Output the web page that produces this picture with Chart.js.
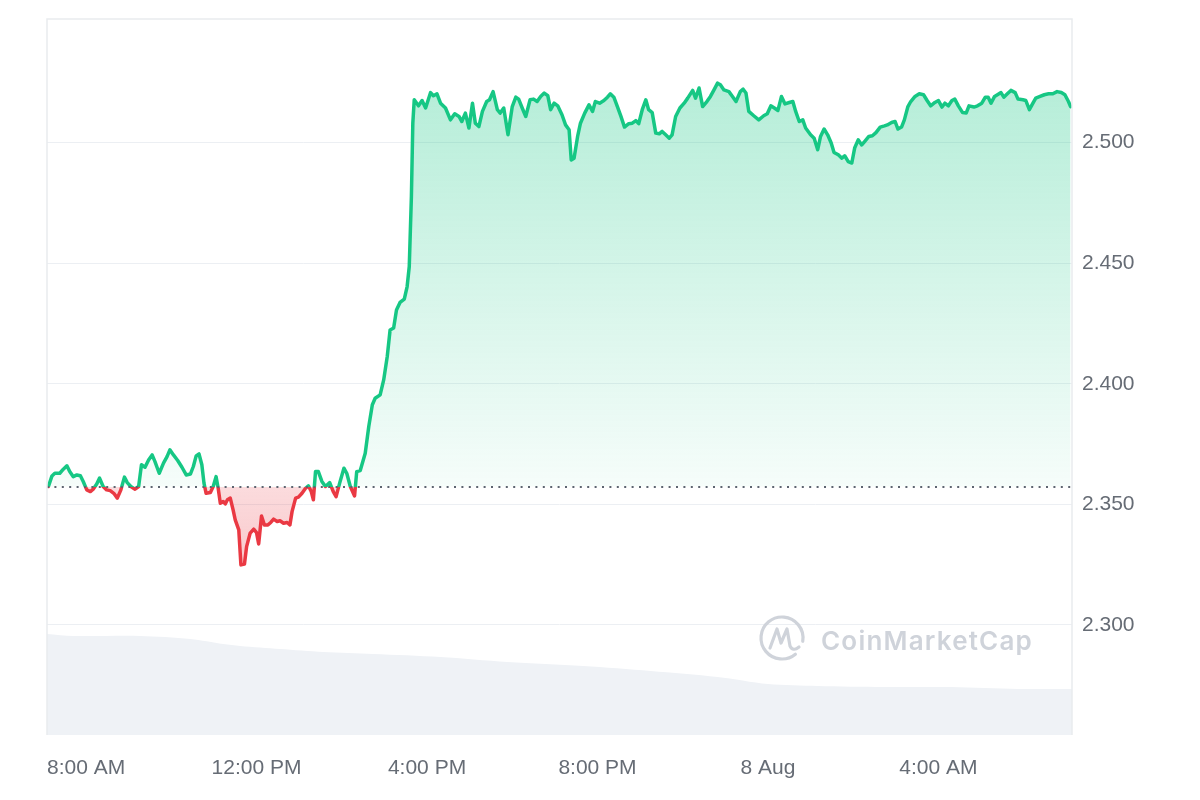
<!DOCTYPE html>
<html>
<head>
    <meta charset="utf-8">
    <title>Price chart 24h</title>
    <style>
        html, body {
            margin: 0;
            padding: 0;
            background: #fff;
        }
        #wrap {
            width: 1200px;
            height: 800px;
        }
    </style>
    <script src="https://cdn.jsdelivr.net/npm/chart.js"></script>
</head>
<body>
    <div id="wrap"><canvas id="priceChart" width="1200" height="800"></canvas></div>
    <script>
        // minutes after 8:00 AM (7 Aug)
        var times = [-53, -48, -44, -37, -32, -27, -23, -18, -13, -8, -4, 1, 6, 10, 15, 19, 24, 29, 34, 39,
            44, 49, 54, 58, 63, 69, 74, 78, 83, 88, 93, 97, 103, 109, 114, 118, 123, 129, 135, 141,
            147, 151, 155, 159, 163, 166, 169, 175, 179, 183, 186, 189, 193, 196, 199, 203, 207, 210, 215, 218,
            223, 226, 231, 236, 240, 243, 247, 251, 256, 260, 264, 269, 273, 278, 283, 287, 290, 295, 299, 304,
            309, 313, 317, 320, 323, 327, 332, 337, 343, 348, 352, 357, 363, 367, 372, 378, 381, 386, 393, 398,
            403, 407, 414, 419, 424, 428, 433, 437, 442, 448, 452, 455, 458, 460, 462, 468, 473, 478, 485, 489,
            494, 499, 506, 513, 519, 525, 529, 534, 539, 544, 548, 553, 558, 564, 568, 573, 579, 583, 588, 594,
            600, 605, 609, 614, 619, 625, 630, 635, 640, 645, 650, 654, 659, 664, 670, 675, 680, 683, 687, 692,
            696, 702, 708, 713, 717, 723, 729, 734, 738, 743, 748, 753, 758, 764, 769, 774, 778, 783, 788, 792,
            797, 802, 807, 811, 816, 821, 825, 830, 836, 842, 847, 854, 858, 863, 868, 874, 879, 884, 889, 893,
            898, 905, 910, 915, 921, 925, 929, 933, 940, 947, 954, 959, 964, 969, 974, 979, 984, 990, 995, 999,
            1004, 1009, 1013, 1020, 1025, 1030, 1034, 1039, 1044, 1049, 1053, 1059, 1064, 1068, 1073, 1078, 1082, 1087, 1092, 1096,
            1102, 1107, 1112, 1118, 1124, 1128, 1134, 1139, 1143, 1148, 1152, 1157, 1161, 1167, 1173, 1179, 1184, 1189, 1195, 1200,
            1205, 1209, 1214, 1219, 1223, 1228, 1234, 1239, 1243, 1250, 1255, 1261, 1266, 1270, 1274, 1279, 1283, 1288, 1292, 1297,
            1302, 1308, 1312, 1319, 1323, 1328, 1333, 1337, 1343, 1349, 1355, 1361, 1367, 1373, 1378, 1383, 1386];

        var prices = [2.3574, 2.3618, 2.3629, 2.3629, 2.3646, 2.3660, 2.3636, 2.3615, 2.3622, 2.3619, 2.3595, 2.3560, 2.3553, 2.3563, 2.3584, 2.3609, 2.3574, 2.3560, 2.3557, 2.3546,
            2.3526, 2.3560, 2.3613, 2.3590, 2.3574, 2.3563, 2.3574, 2.3664, 2.3654, 2.3684, 2.3705, 2.3677, 2.3629, 2.3671, 2.3698, 2.3726, 2.3705, 2.3682, 2.3654, 2.3622,
            2.3626, 2.3657, 2.3701, 2.3709, 2.3664, 2.3588, 2.3546, 2.3549, 2.3574, 2.3615, 2.3567, 2.3505, 2.3512, 2.3502, 2.3519, 2.3526, 2.3477, 2.3436, 2.3394, 2.3249,
            2.3253, 2.3325, 2.3381, 2.3397, 2.3383, 2.3336, 2.3452, 2.3415, 2.3415, 2.3425, 2.3439, 2.3429, 2.3432, 2.3422, 2.3425, 2.3415, 2.3470, 2.3526, 2.3530, 2.3546,
            2.3567, 2.3577, 2.3553, 2.3519, 2.3636, 2.3636, 2.3595, 2.3574, 2.3590, 2.3553, 2.3532, 2.3588, 2.3650, 2.3629, 2.3574, 2.3535, 2.3636, 2.3640, 2.3712, 2.3823,
            2.3913, 2.3940, 2.3954, 2.4016, 2.4113, 2.4223, 2.4231, 2.4306, 2.4337, 2.4351, 2.4403, 2.4486, 2.4776, 2.5080, 2.5177, 2.5152, 2.5174, 2.5143, 2.5207, 2.5194,
            2.5202, 2.5163, 2.5143, 2.5094, 2.5119, 2.5108, 2.5087, 2.5122, 2.5060, 2.5163, 2.5080, 2.5066, 2.5129, 2.5170, 2.5177, 2.5211, 2.5136, 2.5122, 2.5143, 2.5032,
            2.5149, 2.5188, 2.5180, 2.5143, 2.5108, 2.5177, 2.5180, 2.5170, 2.5191, 2.5205, 2.5194, 2.5136, 2.5163, 2.5152, 2.5115, 2.5073, 2.5053, 2.4928, 2.4935, 2.5025,
            2.5080, 2.5122, 2.5156, 2.5129, 2.5170, 2.5163, 2.5174, 2.5188, 2.5202, 2.5188, 2.5149, 2.5108, 2.5064, 2.5078, 2.5080, 2.5091, 2.5078, 2.5136, 2.5177, 2.5136,
            2.5124, 2.5039, 2.5036, 2.5046, 2.5032, 2.5018, 2.5032, 2.5108, 2.5143, 2.5163, 2.5184, 2.5216, 2.5184, 2.5226, 2.5149, 2.5170, 2.5191, 2.5218, 2.5246, 2.5239,
            2.5218, 2.5211, 2.5191, 2.5170, 2.5211, 2.5221, 2.5205, 2.5129, 2.5111, 2.5094, 2.5111, 2.5119, 2.5152, 2.5143, 2.5133, 2.5191, 2.5160, 2.5166, 2.5170, 2.5129,
            2.5087, 2.5094, 2.5060, 2.5032, 2.5018, 2.4970, 2.5025, 2.5056, 2.5032, 2.4998, 2.4959, 2.4949, 2.4935, 2.4945, 2.4921, 2.4915, 2.4977, 2.5011, 2.4990, 2.5004,
            2.5025, 2.5028, 2.5041, 2.5064, 2.5069, 2.5073, 2.5083, 2.5087, 2.5056, 2.5064, 2.5094, 2.5149, 2.5170, 2.5191, 2.5202, 2.5198, 2.5174, 2.5152, 2.5166, 2.5174,
            2.5147, 2.5163, 2.5152, 2.5174, 2.5180, 2.5152, 2.5124, 2.5122, 2.5152, 2.5147, 2.5152, 2.5163, 2.5188, 2.5188, 2.5163, 2.5191, 2.5198, 2.5207, 2.5188, 2.5202,
            2.5216, 2.5207, 2.5180, 2.5177, 2.5174, 2.5136, 2.5163, 2.5184, 2.5191, 2.5198, 2.5202, 2.5202, 2.5211, 2.5207, 2.5198, 2.5170, 2.5149];

        // volume shade at the bottom (relative units)
        var volTimes = [-55, -18, 76, 147, 193, 217, 273, 334, 404, 499, 593, 700, 795, 889, 960, 1030, 1123, 1218, 1312, 1388];
        var volumes = [101, 99, 99, 96, 91, 89, 86, 83, 81, 78, 73, 69, 64, 58, 51, 49, 48, 48, 46, 46];

        var openPrice = 2.3574;
        var tickMinutes = [0, 240, 480, 720, 960, 1200];
        var tickLabels = ['8:00 AM', '12:00 PM', '4:00 PM', '8:00 PM', '8 Aug', '4:00 AM'];
        var priceTicks = [2.300, 2.350, 2.400, 2.450, 2.500];

        var GREEN = '#16c784';
        var RED = '#ea3943';

        function baseFraction(chart) {
            var area = chart.chartArea;
            var yb = chart.scales.y.getPixelForValue(openPrice);
            return Math.min(1, Math.max(0, (yb - area.top) / (area.bottom - area.top)));
        }

        function lineGradient(context) {
            var chart = context.chart;
            if (!chart.chartArea) return GREEN;
            var area = chart.chartArea;
            var f = baseFraction(chart);
            var g = chart.ctx.createLinearGradient(0, area.top, 0, area.bottom);
            g.addColorStop(0, GREEN);
            g.addColorStop(f, GREEN);
            g.addColorStop(f, RED);
            g.addColorStop(1, RED);
            return g;
        }

        function fillGradient(context) {
            var chart = context.chart;
            if (!chart.chartArea) return 'rgba(22,199,132,0.2)';
            var area = chart.chartArea;
            var f = baseFraction(chart);
            var g = chart.ctx.createLinearGradient(0, area.top, 0, area.bottom);
            g.addColorStop(0, 'rgba(22,199,132,0.36)');
            g.addColorStop(f, 'rgba(22,199,132,0.04)');
            g.addColorStop(f, 'rgba(234,57,67,0.18)');
            g.addColorStop(Math.min(1, f + 0.12), 'rgba(234,57,67,0.28)');
            g.addColorStop(1, 'rgba(234,57,67,0.3)');
            return g;
        }

        // frame, dotted open-price line and watermark
        var decorPlugin = {
            id: 'decor',
            beforeDatasetsDraw: function (chart) {
                var ctx = chart.ctx;
                ctx.save();
                // watermark
                ctx.strokeStyle = '#cfd3da';
                ctx.fillStyle = '#cfd3da';
                ctx.lineWidth = 3.2;
                ctx.lineCap = 'round';
                ctx.lineJoin = 'round';
                var cx = 782, cy = 638, r = 21;
                ctx.beginPath();
                ctx.arc(cx, cy, r, 0.28 * Math.PI, 2.05 * Math.PI);
                ctx.stroke();
                ctx.beginPath();
                ctx.moveTo(cx - 12, cy + 10);
                ctx.lineTo(cx - 5, cy - 9);
                ctx.lineTo(cx - 1, cy + 5);
                ctx.lineTo(cx + 5, cy - 9);
                ctx.lineTo(cx + 8, cy + 8);
                ctx.quadraticCurveTo(cx + 11, cy + 14, cx + 17, cy + 9);
                ctx.stroke();
                ctx.font = '600 26px Inter, "Liberation Sans", Arial, sans-serif';
                ctx.letterSpacing = '1.2px';
                ctx.textBaseline = 'alphabetic';
                ctx.fillText('CoinMarketCap', 821, 650);
                ctx.restore();
            },
            afterDatasetsDraw: function (chart) {
                var ctx = chart.ctx;
                var a = chart.chartArea;
                var yb = Math.round(chart.scales.y.getPixelForValue(openPrice));
                ctx.save();
                ctx.strokeStyle = '#5d6470';
                ctx.lineWidth = 2;
                ctx.setLineDash([2, 5.4]);
                ctx.beginPath();
                ctx.moveTo(a.left, yb);
                ctx.lineTo(a.right, yb);
                ctx.stroke();
                ctx.setLineDash([]);
                ctx.strokeStyle = '#e9ebee';
                ctx.lineWidth = 1.5;
                ctx.beginPath();
                ctx.moveTo(a.left, a.bottom);
                ctx.lineTo(a.left, a.top);
                ctx.lineTo(a.right, a.top);
                ctx.lineTo(a.right, a.bottom);
                ctx.stroke();
                ctx.restore();
            }
        };

        var pricePoints = times.map(function (t, i) { return { x: t, y: prices[i] }; });
        var volPoints = volTimes.map(function (t, i) { return { x: t, y: volumes[i] }; });

        var ctx = document.getElementById('priceChart').getContext('2d');
        var priceChart = new Chart(ctx, {
            type: 'line',
            data: {
                datasets: [
                    {
                        label: 'Price',
                        data: pricePoints,
                        yAxisID: 'y',
                        borderColor: lineGradient,
                        backgroundColor: fillGradient,
                        borderWidth: 3.5,
                        pointRadius: 0,
                        tension: 0,
                        borderJoinStyle: 'round',
                        borderCapStyle: 'round',
                        fill: { value: openPrice },
                        order: 0
                    },
                    {
                        label: 'Volume',
                        data: volPoints,
                        yAxisID: 'yVol',
                        borderWidth: 0,
                        borderColor: 'rgba(0,0,0,0)',
                        backgroundColor: '#eff2f6',
                        pointRadius: 0,
                        tension: 0.3,
                        fill: 'origin',
                        order: 1
                    }
                ]
            },
            options: {
                responsive: false,
                animation: false,
                layout: {
                    autoPadding: false,
                    padding: { left: 47, top: 19, right: 0, bottom: 0 }
                },
                plugins: {
                    legend: { display: false },
                    tooltip: { enabled: false }
                },
                scales: {
                    x: {
                        type: 'linear',
                        min: -55,
                        max: 1388,
                        grid: { display: false },
                        border: { display: false },
                        afterBuildTicks: function (axis) {
                            axis.ticks = tickMinutes.map(function (v) { return { value: v }; });
                        },
                        afterFit: function (axis) {
                            axis.height = 65;
                            axis.paddingLeft = 0;
                            axis.paddingRight = 0;
                        },
                        ticks: {
                            autoSkip: false,
                            maxRotation: 0,
                            padding: 13,
                            color: '#666c75',
                            font: { family: '"Liberation Sans", Arial, sans-serif', size: 21 },
                            callback: function (value, index) {
                                return tickLabels[index];
                            }
                        }
                    },
                    y: {
                        position: 'right',
                        min: 2.2544,
                        max: 2.5512,
                        grid: { color: '#eceff3', drawTicks: false, lineWidth: 1 },
                        border: { display: false },
                        afterBuildTicks: function (axis) {
                            axis.ticks = priceTicks.map(function (v) { return { value: v }; });
                        },
                        afterFit: function (axis) {
                            axis.width = 128;
                            axis.paddingTop = 0;
                            axis.paddingBottom = 0;
                        },
                        ticks: {
                            padding: 10,
                            color: '#666c75',
                            font: { family: '"Liberation Sans", Arial, sans-serif', size: 21 },
                            callback: function (value) {
                                return value.toFixed(3);
                            }
                        }
                    },
                    yVol: {
                        display: false,
                        min: 0,
                        max: 716
                    }
                }
            },
            plugins: [decorPlugin]
        });
    </script>
</body>
</html>
